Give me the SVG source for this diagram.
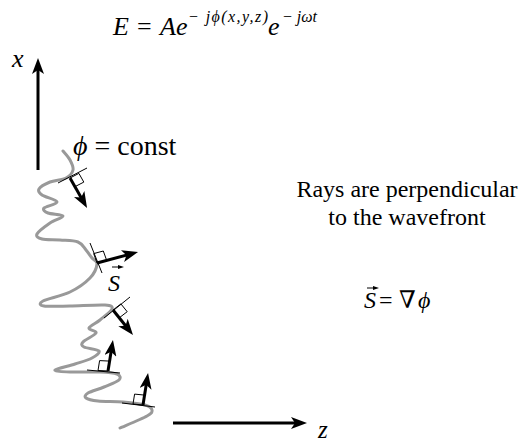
<svg xmlns="http://www.w3.org/2000/svg" width="520" height="443" viewBox="0 0 520 443" font-family="'Liberation Serif', 'Times New Roman', 'DejaVu Serif', serif">
<style>
text{fill:#000}
.it{font-style:italic}
.arr{stroke:#000;stroke-width:3;fill:none;marker-end:url(#ah)}
.tan{stroke:#000;stroke-width:1;fill:none}
.sq{stroke:#000;stroke-width:1;fill:none}
.wave{stroke:#999;stroke-width:3;fill:none;stroke-linecap:round;stroke-linejoin:round}
.vec{stroke:#000;stroke-width:1;fill:none;marker-end:url(#sh)}
</style>
<defs>
<marker id="ah" viewBox="0 0 16 12" refX="8" refY="6" markerWidth="16" markerHeight="12" markerUnits="userSpaceOnUse" orient="auto">
<path d="M0,0 L16,6 L0,12 L4,6 Z" fill="#000"/>
</marker>
<marker id="sh" viewBox="0 0 6 4" refX="3" refY="2" markerWidth="6" markerHeight="4" markerUnits="userSpaceOnUse" orient="auto">
<path d="M0,0 L6,2 L0,4 Z" fill="#000"/>
</marker>
</defs>
<g id="equation">
<text x="113" y="35" font-size="26"><tspan class="it">E</tspan><tspan x="137">=</tspan><tspan x="160" class="it">Ae</tspan></text>
<text x="188" y="22" font-size="16" class="it" textLength="80" lengthAdjust="spacing">− jϕ(x,y,z)</text>
<text x="268" y="35" font-size="26" class="it">e</text>
<text x="282" y="22" font-size="16" class="it" textLength="35" lengthAdjust="spacing">− jωt</text>
</g>
<g id="x-axis-label"><text x="12" y="67" font-size="26" class="it">x</text></g>
<g id="z-axis-label"><text x="318" y="438" font-size="25" class="it">z</text></g>
<g id="phase-label"><text x="73" y="155" font-size="28"><tspan class="it">ϕ</tspan> = const</text></g>
<g id="rays-note">
<text x="407" y="197" font-size="24" text-anchor="middle">Rays are perpendicular</text>
<text x="407" y="225" font-size="24" text-anchor="middle">to the wavefront</text>
</g>
<g id="gradient-eq">
<text x="364" y="308" font-size="24" class="it">S</text>
<path class="vec" d="M367,288 L376,288"/>
<text x="379" y="308" font-size="24">=</text>
<text x="399" y="308" font-size="24">∇</text>
<text x="418" y="308" font-size="24" class="it">ϕ</text>
</g>
<g id="s-label">
<text x="108" y="291" font-size="24" class="it">S</text>
<path class="vec" d="M112,267 L121,267"/>
</g>
<g id="wavefront">
<path class="wave" d="M63,151 C64.2,152.5 68.3,156.8 70,160 S73.7,167 73,170 S69.8,176 66,178 S54.5,180.2 50,182 S40.3,186.8 39,189 S39,192.8 42,195 S56.7,199.8 57,202 S45.5,206.2 44,208 S44.8,211.7 48,213 S62.7,214.3 63,216 S54.3,220 50,223 S38.3,231.3 37,234 S38.2,238 42,239 S54,239.5 60,240 S73.7,240.3 78,242 S83.7,247.3 86,250 S90.2,255.7 92,258 S97.3,260.7 97,264 S94.5,273.3 90,278 S77.8,288.2 70,292 S47.3,298.7 43,301 S39.5,305.2 44,306 S59.8,306.2 70,306 S98,304.5 105,305 S112.8,306.5 112,309 S103.8,316.8 100,320 S89.7,325.8 89,328 S97,330.7 96,333 S85,339.7 83,342 S81.3,345.5 84,347 S97.7,349.2 99,351 S96,355.8 92,358 S81.2,362 75,364 S55.8,368.7 55,370 S62.5,371.7 70,372 S92.2,371.7 100,372 S113.8,372.7 117,374 S121.2,377.8 119,380 S109.2,384.8 104,387 S91,391.2 88,393 S84.3,396.7 86,398 S91.8,400.3 98,401 S115.2,401.3 123,402 S140.2,403.7 145,405 S151.7,408.2 152,410 S152.3,413 147,416 S124.5,426 120,428"/>
</g>
<g id="tangents">
<path class="tan" d="M58,183 L87,168"/>
<path class="tan" d="M90,243 L102,273"/>
<path class="tan" d="M104,318 L130,297"/>
<path class="tan" d="M87,370 L120,373"/>
<path class="tan" d="M122,403 L155,407"/>
</g>
<g id="right-angles">
<path class="sq" d="M70,178 L78.9,173.4 L83.8,182.1 L74.9,186.7"/>
<path class="sq" d="M97,263 L93.7,253.6 L103.3,251 L106.7,260.4"/>
<path class="sq" d="M113,310 L120.9,303.9 L127.2,311.7 L119.3,317.8"/>
<path class="sq" d="M108,371 L98,370.5 L99.6,360.6 L109.6,361.1"/>
<path class="sq" d="M143,405 L133,404 L134.6,394.1 L144.5,395.1"/>
</g>
<g id="connectors">
<path id="x-axis" class="arr" d="M38,170 L38,66"/>
<path id="z-axis" class="arr" d="M173,423 L299,423"/>
<path id="ray1" class="arr" d="M70,178 L83.1,201"/>
<path id="ray2" class="arr" d="M97,263 L130.3,254.1"/>
<path id="ray3" class="arr" d="M113,310 L128,328.8"/>
<path id="ray4" class="arr" d="M108,371 L111.7,347.9"/>
<path id="ray5" class="arr" d="M143,405 L146.8,380.9"/>
</g>
</svg>
